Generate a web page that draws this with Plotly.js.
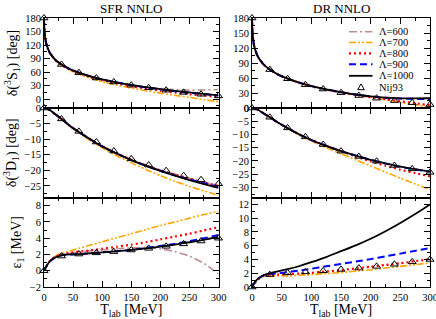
<!DOCTYPE html>
<html>
<head>
<meta charset="utf-8">
<script src="https://cdn.plot.ly/plotly-3.0.1.min.js"></script>
<style>html,body{margin:0;padding:0;background:#fff;}#chart{width:436px;height:319px;}</style>
</head>
<body>
<div id="chart"></div>
<script>
// ---------------- data ----------------
const T = [0, 1, 3, 5, 10, 20, 30, 45, 60, 80, 100, 125, 150, 175, 200, 225, 250, 275, 300];
const T_nij = [0, 30, 60, 90, 120, 150, 180, 210, 240, 270, 300];

// 3S1 phase shift [deg]
const nij_3S1 = [180, 76.8, 58.5, 46.6, 37.9, 30.7, 24.9, 19.6, 14.8, 10.6, 6.9];
const sfr_3S1_600  = [180,147.7,128,118.2,102.6,86.5,77,66,58.6,50.3,43.6,36.8,31.3,26.7,23,20.8,19.8,20,21];
const sfr_3S1_700  = [180,147.3,127,117.2,101.4,85,75,63,55,46,38.5,31,24.5,18.5,13,8,3.5,-1.5,-6];
const sfr_3S1_800  = [180,147.5,127.5,117.8,102,85.8,76,65,57.3,48.7,41.7,34.6,28.5,23.2,18.5,14.3,10.5,7.3,4.5];
const sfr_3S1_900  = [180,147.7,128,118.2,102.6,86.4,76.8,66,58.5,50.1,43.3,36.5,30.8,25.8,21.4,17.4,13.8,10.5,7.5];
const sfr_3S1_1000 = [180,147.7,128,118.2,102.6,86.5,77,66.2,58.8,50.5,43.8,37,31.3,26.4,22,18,14.5,11.2,8.2];
const dr_3S1_700   = [180,147.7,128,118.2,102.6,86.5,77.2,66.5,59.2,51,44.2,37.4,31.8,26.5,21.5,16.5,11.5,6.5,2];
const dr_3S1_800   = [180,147.7,128,118.2,102.6,86.5,77,66.2,58.8,50.4,43.6,36.8,31,26,21.5,17.5,13.5,9.5,5.5];
const dr_3S1_900   = [180,147.7,128,118.2,102.6,86.5,77,66.2,58.8,50.5,43.8,37.2,31.7,26.9,23,20.3,18.8,18.2,18];
const dr_3S1_1000  = [180,147.7,128,118.2,102.6,86.5,77,66.2,58.8,50.5,43.8,37.2,31.8,27,23.2,20.6,19.4,19.2,19.5];

// 3D1 phase shift [deg]
const nij_3D1 = [0, -3.5, -7.5, -10.9, -13.8, -16.3, -18.3, -20.1, -21.7, -23.0, -24.3];
const sfr_3D1_600  = [0,-0.01,-0.07,-0.18,-0.68,-2.1,-3.5,-5.8,-7.7,-10.1,-12.3,-14.6,-16.5,-18.3,-19.9,-21.2,-22.5,-23.7,-24.8];
const sfr_3D1_700  = [0,-0.01,-0.07,-0.18,-0.7,-2.15,-3.6,-5.9,-7.9,-10.5,-12.8,-15.3,-17.6,-19.7,-21.7,-23.5,-25.1,-26.6,-28];
const sfr_3D1_800  = [0,-0.01,-0.07,-0.18,-0.68,-2.1,-3.5,-5.8,-7.7,-10.1,-12.3,-14.6,-16.6,-18.4,-20,-21.4,-22.7,-23.9,-25];
const sfr_3D1_900  = [0,-0.01,-0.07,-0.18,-0.68,-2.1,-3.5,-5.8,-7.7,-10.1,-12.3,-14.6,-16.7,-18.5,-20.1,-21.6,-22.9,-24.1,-25.3];
const sfr_3D1_1000 = [0,-0.01,-0.07,-0.18,-0.68,-2.1,-3.5,-5.8,-7.7,-10.1,-12.3,-14.6,-16.7,-18.5,-20.2,-21.7,-23.1,-24.4,-25.6];
const dr_3D1_700   = [0,-0.01,-0.07,-0.18,-0.68,-2.1,-3.5,-5.7,-7.7,-10.2,-12.5,-15,-17.3,-19.6,-21.9,-24.2,-26.5,-28.7,-30.8];
const dr_3D1_800   = [0,-0.01,-0.07,-0.18,-0.68,-2.1,-3.5,-5.7,-7.6,-10,-12.1,-14.3,-16.3,-18.3,-20.2,-21.8,-23.3,-24.6,-25.8];
const dr_3D1_900   = [0,-0.01,-0.07,-0.18,-0.68,-2.1,-3.5,-5.7,-7.6,-10,-12.1,-14.3,-16.3,-18,-19.6,-21,-22.2,-23.2,-24.1];
const dr_3D1_1000  = [0,-0.01,-0.07,-0.18,-0.68,-2.1,-3.5,-5.7,-7.6,-10,-12.1,-14.3,-16.3,-18,-19.6,-20.9,-22.1,-23.1,-24];

// mixing angle eps1 [deg]
const nij_eps1 = [0, 1.8, 2.05, 2.2, 2.35, 2.55, 2.75, 3.0, 3.3, 3.65, 4.0];
const sfr_eps1_600  = [0,0.15,0.4,0.65,1.2,1.75,2.0,2.15,2.3,2.45,2.55,2.7,2.8,2.85,2.7,2.35,1.8,0.9,-0.4];
const sfr_eps1_700  = [0,0.15,0.4,0.65,1.2,1.8,2.15,2.45,2.75,3.15,3.55,4.05,4.55,5.05,5.55,6.0,6.45,6.9,7.3];
const sfr_eps1_800  = [0,0.15,0.4,0.65,1.2,1.75,2.0,2.2,2.35,2.5,2.7,2.95,3.2,3.5,3.85,4.2,4.55,4.95,5.35];
const sfr_eps1_900  = [0,0.15,0.4,0.65,1.15,1.65,1.9,2.0,2.05,2.15,2.25,2.4,2.55,2.8,3.05,3.3,3.65,4.0,4.4];
const sfr_eps1_1000 = [0,0.15,0.4,0.65,1.15,1.65,1.9,2.0,2.05,2.15,2.25,2.4,2.55,2.75,2.95,3.2,3.5,3.8,4.15];
const dr_eps1_700   = [0,0.15,0.4,0.65,1.1,1.6,1.65,1.6,1.6,1.7,1.8,1.95,2.1,2.3,2.5,2.75,3.0,3.25,3.5];
const dr_eps1_800   = [0,0.15,0.4,0.65,1.1,1.65,1.75,1.8,1.85,1.95,2.05,2.25,2.45,2.7,2.95,3.2,3.45,3.75,4.05];
const dr_eps1_900   = [0,0.15,0.4,0.65,1.15,1.7,1.85,2.0,2.15,2.4,2.65,3.0,3.35,3.7,4.05,4.45,4.85,5.25,5.65];
const dr_eps1_1000  = [0,0.2,0.5,0.75,1.2,1.75,2.0,2.3,2.6,3.05,3.6,4.35,5.2,6.05,7.0,8.1,9.3,10.6,12.0];

const legendLabels = ["\u039B=600", "\u039B=700", "\u039B=800", "\u039B=900", "\u039B=1000", "Nij93"];
const panelTitles = ["SFR NNLO", "DR NNLO"];
const yTitles = ["\u03B4(<sup>3</sup>S<sub>1</sub>) [deg]", "\u03B4(<sup>3</sup>D<sub>1</sub>) [deg]", "\u03B5<sub>1</sub> [MeV]"];
const xTitle = "T<sub>lab</sub> [MeV]";

// ---------------- styles ----------------
const styles = [
  {color: "#BC8F8F", dash: "8px,3px,2px,3px", width: 1.6},       // 600
  {color: "#FFA500", dash: "7px,2px,2px,2px,2px,2px", width: 1.6}, // 700
  {color: "#FF0000", dash: "2px,3px", width: 2.2},                // 800
  {color: "#0000FF", dash: "7px,4px", width: 2},                  // 900
  {color: "#000000", dash: "solid", width: 1.8}                   // 1000
];

const panels = [
  {x: "x",  y: "y",  series: [sfr_3S1_600, sfr_3S1_700, sfr_3S1_800, sfr_3S1_900, sfr_3S1_1000], nij: nij_3S1},
  {x: "x2", y: "y2", series: [sfr_3D1_600, sfr_3D1_700, sfr_3D1_800, sfr_3D1_900, sfr_3D1_1000], nij: nij_3D1},
  {x: "x3", y: "y3", series: [sfr_eps1_600, sfr_eps1_700, sfr_eps1_800, sfr_eps1_900, sfr_eps1_1000], nij: nij_eps1},
  {x: "x4", y: "y4", series: [null, dr_3S1_700, dr_3S1_800, dr_3S1_900, dr_3S1_1000], nij: nij_3S1},
  {x: "x5", y: "y5", series: [null, dr_3D1_700, dr_3D1_800, dr_3D1_900, dr_3D1_1000], nij: nij_3D1},
  {x: "x6", y: "y6", series: [null, dr_eps1_700, dr_eps1_800, dr_eps1_900, dr_eps1_1000], nij: nij_eps1}
];

const traces = [];
panels.forEach(p => {
  p.series.forEach((s, i) => {
    if (!s) return;
    traces.push({
      type: "scatter", mode: "lines", x: T, y: s, xaxis: p.x, yaxis: p.y,
      line: {color: styles[i].color, dash: styles[i].dash, width: styles[i].width, shape: "spline", smoothing: 0.6},
      showlegend: false, hoverinfo: "skip", cliponaxis: true
    });
  });
  traces.push({
    type: "scatter", mode: "markers", x: T_nij, y: p.nij, xaxis: p.x, yaxis: p.y,
    marker: {symbol: "triangle-up-open", size: 7, color: "#000", line: {width: 1, color: "#000"}},
    showlegend: false, hoverinfo: "skip", cliponaxis: false
  });
});

// ---------------- layout ----------------
const W = 436, H = 319, ML = 44, MR = 6, MT = 18, MB = 32;
const PW = W - ML - MR, PH = H - MT - MB;
const px2x = px => (px - ML) / PW;
const py2y = py => 1 - (py - MT) / PH;

const font = {family: "Liberation Serif, Times New Roman, serif", size: 10.5, color: "#000"};
const xDomL = [0, px2x(218.5)], xDomR = [px2x(252), 1];
const yDomTop = [py2y(108), 1], yDomMid = [py2y(197.5), py2y(108)], yDomBot = [0, py2y(197.5)];

function xax(domain, anchor, labels) {
  const a = {domain: domain, anchor: anchor, range: [0, 300], dtick: 50, tick0: 0,
    ticks: "inside", ticklen: 6, tickwidth: 1, tickcolor: "#000",
    minor: {ticks: "inside", ticklen: 3, dtick: 25, tickcolor: "#000"},
    showline: true, linecolor: "#000", linewidth: 1, mirror: "allticks",
    showgrid: false, zeroline: false, showticklabels: labels, tickfont: font, fixedrange: true,
    ticklabeloverflow: "allow"};
  if (labels) a.title = {text: xTitle, font: {family: font.family, size: 14, color: "#000"}, standoff: 2};
  return a;
}
function yax(domain, anchor, range, dtick, title) {
  const a = {domain: domain, anchor: anchor, range: range, dtick: dtick, tick0: 0,
    ticks: "inside", ticklen: 6, tickwidth: 1, tickcolor: "#000",
    minor: {ticks: "inside", ticklen: 3, dtick: dtick / 2, tickcolor: "#000"},
    showline: true, linecolor: "#000", linewidth: 1, mirror: "allticks",
    showgrid: false, zeroline: false, tickfont: font, fixedrange: true,
    ticklabeloverflow: "allow"};
  if (title) a.title = {text: title, font: {family: font.family, size: 14, color: "#000"}, standoff: 4};
  return a;
}

const layout = {
  width: W, height: H, margin: {l: ML, r: MR, t: MT, b: MB},
  paper_bgcolor: "#fff", plot_bgcolor: "#fff", showlegend: false, font: font,
  xaxis:  xax(xDomL, "y", false),  yaxis:  yax(yDomTop, "x", [-20, 180], 30, yTitles[0]),
  xaxis2: xax(xDomL, "y2", false), yaxis2: yax(yDomMid, "x2", [-28.7, 0], 5, yTitles[1]),
  xaxis3: xax(xDomL, "y3", true),  yaxis3: yax(yDomBot, "x3", [-2, 9], 2, yTitles[2]),
  xaxis4: xax(xDomR, "y4", false), yaxis4: yax(yDomTop, "x4", [0, 180], 30, null),
  xaxis5: xax(xDomR, "y5", false), yaxis5: yax(yDomMid, "x5", [-33.8, 0], 5, null),
  xaxis6: xax(xDomR, "y6", true),  yaxis6: yax(yDomBot, "x6", [0, 13], 2, null),
  annotations: [], shapes: []
};

// panel titles
[xDomL, xDomR].forEach((d, i) => {
  layout.annotations.push({text: panelTitles[i], xref: "paper", yref: "paper",
    x: (d[0] + d[1]) / 2, y: py2y(8), xanchor: "center", yanchor: "middle", showarrow: false,
    font: {family: font.family, size: 13, color: "#000"}});
});

// manual legend (compact, like the original)
const legRows = [31.7, 42.5, 53.3, 64.2, 75.8, 87.2];
legendLabels.forEach((lab, i) => {
  const yy = py2y(legRows[i]);
  layout.annotations.push({text: lab, xref: "paper", yref: "paper", x: px2x(378), y: yy,
    xanchor: "left", yanchor: "middle", showarrow: false, borderpad: 0,
    font: {family: font.family, size: 10.5, color: "#000"}});
  if (i < styles.length) {
    layout.shapes.push({type: "line", xref: "paper", yref: "paper",
      x0: px2x(349), x1: px2x(372.5), y0: yy, y1: yy,
      line: {color: styles[i].color, dash: styles[i].dash, width: styles[i].width}});
  } else {
    const cx = 361, cy = legRows[i], r = 3.3;
    layout.shapes.push({type: "path", xref: "paper", yref: "paper",
      path: `M ${px2x(cx)} ${py2y(cy - r)} L ${px2x(cx + r)} ${py2y(cy + r * 0.75)} L ${px2x(cx - r)} ${py2y(cy + r * 0.75)} Z`,
      line: {color: "#000", width: 1}});
  }
});

Plotly.newPlot("chart", traces, layout, {staticPlot: true, displayModeBar: false});
</script>
</body>
</html>
